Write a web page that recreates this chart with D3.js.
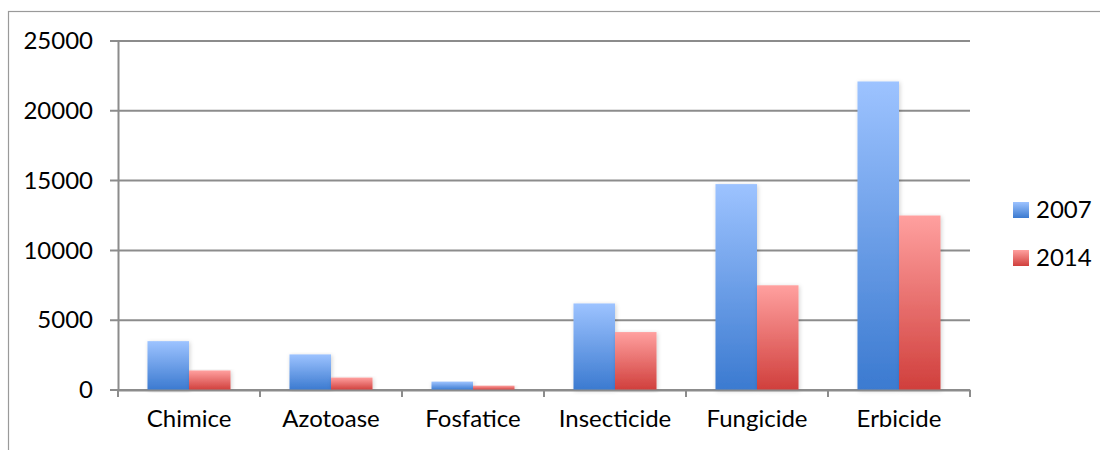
<!DOCTYPE html>
<html><head><meta charset="utf-8">
<script src="https://cdn.jsdelivr.net/npm/d3@7"></script>
<style>body{margin:0;background:#fff;}svg{display:block;font-family:Lato,"Open Sans",sans-serif;}</style>
</head><body><svg id="c" width="1100" height="450"></svg>
<script>
const categories = ["Chimice","Azotoase","Fosfatice","Insecticide","Fungicide","Erbicide"];
const seriesNames = ["2007","2014"];
const values2007 = [3500, 2550, 600, 6200, 14750, 22100];
const values2014 = [1400, 890, 310, 4150, 7500, 12500];
const yTicks = [0, 5000, 10000, 15000, 20000, 25000];

const svg = d3.select("#c");
const defs = svg.append("defs");
const grads = [["gBlue","#9dc3ff","#3b7ad0"],["gRed","#ffa09f","#d03f3c"]];
grads.forEach(([id,top,bot])=>{
  const g = defs.append("linearGradient").attr("id",id).attr("x1",0).attr("y1",0).attr("x2",0).attr("y2",1);
  g.append("stop").attr("offset","0%").attr("stop-color",top);
  g.append("stop").attr("offset","100%").attr("stop-color",bot);
});
const f = defs.append("filter").attr("id","sh").attr("x","-20%").attr("y","-5%").attr("width","140%").attr("height","110%");
f.append("feDropShadow").attr("dx",1).attr("dy",1).attr("stdDeviation",2).attr("flood-color","#000").attr("flood-opacity",0.18);

// outer frame
svg.append("rect").attr("x",8.5).attr("y",11.5).attr("width",1200).attr("height",600)
  .attr("fill","none").attr("stroke","#9a9a9a").attr("stroke-width",1.2);

const L=118, R=970, T=41, B=390;
const x = d3.scaleBand().domain(categories).range([L,R]).paddingInner(0).paddingOuter(0);
const y = d3.scaleLinear().domain([0,25000]).range([B,T]);
const inner = d3.scaleBand().domain(seriesNames).range([0,x.bandwidth()]).paddingInner(0).paddingOuter(0.71);

// gridlines
svg.append("g").selectAll("line").data(yTicks).join("line")
  .attr("x1",L-8).attr("x2",R).attr("y1",d=>y(d)).attr("y2",d=>y(d))
  .attr("stroke","#8c8c8c").attr("stroke-width",2);

// y axis
const ya = svg.append("g").attr("transform",`translate(${L},0)`)
  .call(d3.axisLeft(y).tickValues(yTicks).tickSize(0).tickPadding(25).tickFormat(d3.format("d")));
ya.select(".domain").attr("stroke","#8c8c8c").attr("stroke-width",2);
ya.selectAll("text").attr("font-size",24).attr("fill","#000").attr("font-family","Lato");

// bars
const data = categories.map((c,i)=>({c, vals:[values2007[i], values2014[i]]}));
const gg = svg.append("g").selectAll("g").data(data).join("g").attr("transform",d=>`translate(${x(d.c)},0)`);
gg.selectAll("rect").data(d=>d.vals.map((v,j)=>({s:seriesNames[j],v,j}))).join("rect")
  .attr("x",d=>inner(d.s)).attr("width",inner.bandwidth())
  .attr("y",d=>y(d.v)).attr("height",d=>B-y(d.v))
  .attr("fill",d=>d.j===0?"url(#gBlue)":"url(#gRed)")
  .attr("filter","url(#sh)");

// x axis
const xa = svg.append("g").attr("transform",`translate(0,${B})`)
  .call(d3.axisBottom(x).tickSize(0).tickPadding(20));
xa.select(".domain").attr("stroke","#8c8c8c").attr("stroke-width",2);
xa.selectAll("text").attr("font-size",24).attr("fill","#000").attr("font-family","Lato");
const bounds = categories.map(c=>x(c)).concat([R]);
svg.append("g").selectAll("line").data(bounds).join("line")
  .attr("x1",d=>d).attr("x2",d=>d).attr("y1",B).attr("y2",B+7)
  .attr("stroke","#8c8c8c").attr("stroke-width",2);

// legend
const lg = svg.append("g").selectAll("g").data(seriesNames).join("g")
  .attr("transform",(d,i)=>`translate(1013,${202+i*48})`);
lg.append("rect").attr("width",16).attr("height",16).attr("fill",(d,i)=>i===0?"url(#gBlue)":"url(#gRed)");
lg.append("text").attr("x",23).attr("y",8).attr("dy","0.35em").attr("font-size",24).attr("font-family","Lato").text(d=>d);
</script></body></html>
